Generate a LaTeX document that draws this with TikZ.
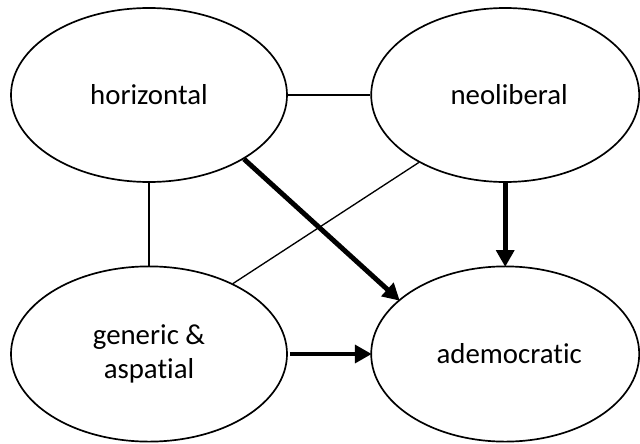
\documentclass[tikz,border=0pt]{standalone}
\usepackage{fontspec}
\setmainfont{Carlito}[Ligatures={NoCommon,NoContextual}]
\usetikzlibrary{arrows.meta, shapes.geometric, positioning}

\tikzset{
  bubble/.style={draw, ellipse, line width=1.2pt, inner sep=0pt, align=center,
    font=\fontsize{20.5}{24}\selectfont},
  link/.style={line width=0.95pt},
  push/.style={line width=3.5pt, -{Triangle[length=4.2mm,width=4.4mm]}, shorten >=-1pt}
}

\begin{document}
\begin{tikzpicture}
\useasboundingbox (0,0) rectangle (16,11.075);
% the four ellipses
\node[bubble, minimum width=6.9cm, minimum height=4.35cm] (horiz) at (3.725,8.7) {horizontal};
\node[bubble, minimum width=6.7cm, minimum height=4.35cm] (neolib) at (12.63,8.7) {\hspace{2mm}neoliberal};
\node[bubble, minimum width=6.9cm, minimum height=4.38cm] (generic) at (3.725,2.225) {generic \&\\aspatial};
\node[bubble, minimum width=6.7cm, minimum height=4.38cm] (ademo) at (12.63,2.225) {\hspace{2mm}ademocratic};
% plain links
\draw[link] (horiz.east) -- (neolib.west);
\draw[link] (horiz.south) -- (generic.north);
\draw[link] (neolib.218) -- (generic.40);
% arrows into ademocratic
\draw[push] (horiz.-34) -- (ademo.153);
\draw[push] (neolib.south) -- (ademo.north);
\draw[push] ([xshift=0.5mm]generic.east) -- (ademo.west);
\end{tikzpicture}
\end{document}
